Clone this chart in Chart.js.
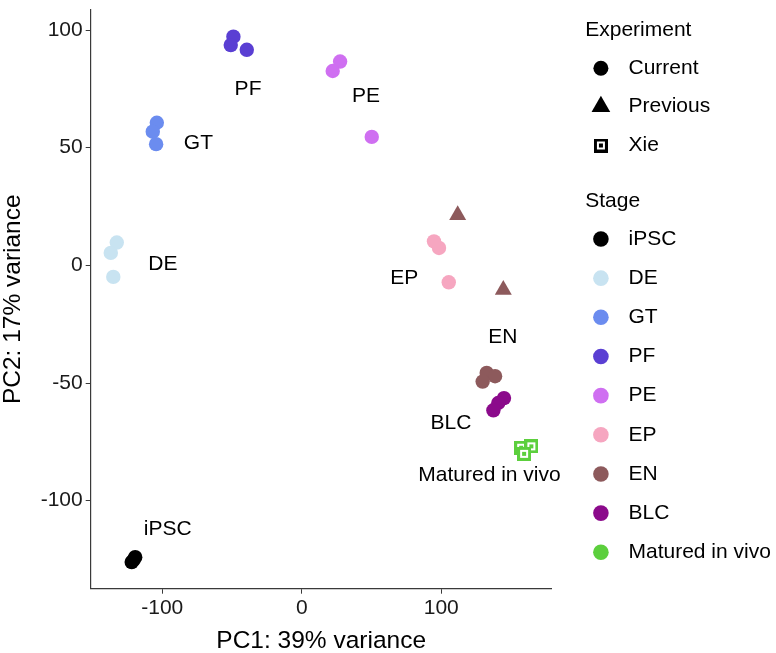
<!DOCTYPE html>
<html>
<head>
<meta charset="utf-8">
<script src="https://cdn.jsdelivr.net/npm/chart.js@4/dist/chart.umd.min.js"></script>
<style>
  html, body { margin: 0; padding: 0; background: #ffffff; }
  #wrap { width: 776px; height: 653px; }
</style>
</head>
<body>
<div id="wrap"><canvas id="c" width="776" height="653"></canvas></div>
<script>
// ---------------- DATA ----------------
const stages = ['iPSC', 'DE', 'GT', 'PF', 'PE', 'EP', 'EN', 'BLC', 'Matured in vivo'];
const experiments = ['Current', 'Previous', 'Xie'];

const sampleStage = [
  'iPSC', 'iPSC', 'iPSC',
  'DE', 'DE', 'DE',
  'GT', 'GT', 'GT',
  'PF', 'PF', 'PF',
  'PE', 'PE', 'PE',
  'EP', 'EP', 'EP',
  'EN', 'EN', 'EN',
  'EN', 'EN',
  'BLC', 'BLC', 'BLC',
  'Matured in vivo', 'Matured in vivo', 'Matured in vivo'
];
const sampleExperiment = [
  'Current', 'Current', 'Current',
  'Current', 'Current', 'Current',
  'Current', 'Current', 'Current',
  'Current', 'Current', 'Current',
  'Current', 'Current', 'Current',
  'Current', 'Current', 'Current',
  'Current', 'Current', 'Current',
  'Previous', 'Previous',
  'Current', 'Current', 'Current',
  'Xie', 'Xie', 'Xie'
];
const pc1 = [
  -119.4, -121.9, -120.6,
  -132.6, -136.9, -135.1,
  -103.9, -106.8, -104.4,
  -49.0, -50.9, -39.4,
  27.5, 22.2, 50.2,
  94.8, 98.4, 105.4,
  132.6, 138.6, 129.7,
  111.8, 144.5,
  145.0, 140.9, 137.4,
  157.3, 164.6, 159.4
];
const pc2 = [
  -124.0, -126.1, -125.2,
  9.7, 5.3, -4.9,
  60.6, 56.8, 51.5,
  97.2, 93.6, 91.6,
  86.6, 82.6, 54.6,
  10.2, 7.4, -7.2,
  -45.7, -47.1, -49.4,
  21.4, -10.4,
  -56.4, -58.5, -61.6,
  -77.5, -76.9, -80.1
];

// text labels placed in data units (as ggrepel placed them)
const labelText = ['iPSC', 'DE', 'GT', 'PF', 'PE', 'EP', 'EN', 'BLC', 'Matured in vivo'];
const labelPC1 = [-96.1, -99.6, -74.1, -38.5, 46.1, 73.5, 144.1, 107.0, 134.6];
const labelPC2 = [-112.1, 0.3, 51.8, 74.8, 71.7, -5.3, -30.6, -67.1, -89.1];

const xTicks = [-100, 0, 100];
const yTicks = [-100, -50, 0, 50, 100];
const xTitle = 'PC1: 39% variance';
const yTitle = 'PC2: 17% variance';

// ---------------- STYLE ----------------
const stageColors = {
  'iPSC': '#000000',
  'DE': '#c8e3f1',
  'GT': '#6b8cef',
  'PF': '#5a3fd3',
  'PE': '#cf6ff1',
  'EP': '#f6a6c0',
  'EN': '#8d5a5c',
  'BLC': '#8b0a8b',
  'Matured in vivo': '#5ccf3d'
};
const FONT = "'Liberation Sans', Arial, Helvetica, sans-serif";

function xieGlyph(color, size) {
  const c = document.createElement('canvas');
  c.width = size; c.height = size;
  const g = c.getContext('2d');
  g.fillStyle = color;
  g.fillRect(0, 0, size, size);
  const a = Math.round(size * 0.22);
  g.fillStyle = '#ffffff';
  g.fillRect(a, a, size - 2 * a, size - 2 * a);
  const b = Math.round(size * 0.36);
  g.fillStyle = color;
  g.fillRect(b, b, size - 2 * b, size - 2 * b);
  return c;
}

// build datasets: one per stage x experiment combination
const datasets = [];
stages.forEach(st => {
  experiments.forEach(ex => {
    const pts = [];
    for (let i = 0; i < pc1.length; i++) {
      if (sampleStage[i] === st && sampleExperiment[i] === ex) pts.push({ x: pc1[i], y: pc2[i] });
    }
    if (!pts.length) return;
    const col = stageColors[st];
    let style = 'circle', radius = 7.2;
    if (ex === 'Previous') { style = 'triangle'; radius = 9.8; }
    if (ex === 'Xie') { style = xieGlyph(col, 14); radius = 7; }
    datasets.push({
      label: st + ' / ' + ex,
      data: pts,
      pointStyle: style,
      pointRadius: radius,
      pointBackgroundColor: col,
      pointBorderColor: col,
      pointBorderWidth: 0,
      showLine: false
    });
  });
});

// ---------------- PLUGINS ----------------
const textLabels = {
  id: 'textLabels',
  afterDatasetsDraw(chart) {
    const { ctx, scales: { x, y } } = chart;
    ctx.save();
    ctx.font = '21px ' + FONT;
    ctx.fillStyle = '#000000';
    ctx.textAlign = 'center';
    ctx.textBaseline = 'middle';
    for (let i = 0; i < labelText.length; i++) {
      ctx.fillText(labelText[i], x.getPixelForValue(labelPC1[i]), y.getPixelForValue(labelPC2[i]));
    }
    ctx.restore();
  }
};

const customLegend = {
  id: 'customLegend',
  afterDraw(chart) {
    const ctx = chart.ctx;
    const left = chart.chartArea.right + 33.5;
    const markX = left + 15.7;
    const textX = left + 43.3;
    ctx.save();
    ctx.font = '21px ' + FONT;
    ctx.textBaseline = 'middle';
    ctx.textAlign = 'left';
    ctx.fillStyle = '#000000';
    // Experiment
    let yy = 30;
    ctx.fillText('Experiment', left, yy);
    const expY = [68.3, 106.5, 145.5];
    experiments.forEach((ex, i) => {
      const cy = expY[i];
      ctx.fillStyle = '#000000';
      if (ex === 'Current') {
        ctx.beginPath(); ctx.arc(markX, cy, 7.5, 0, Math.PI * 2); ctx.fill();
      } else if (ex === 'Previous') {
        const r = 10.8;
        ctx.beginPath();
        for (let k = 0; k < 3; k++) {
          const a = k * 2 * Math.PI / 3;
          const px = markX + Math.sin(a) * r, py = cy - Math.cos(a) * r;
          if (k === 0) ctx.moveTo(px, py); else ctx.lineTo(px, py);
        }
        ctx.closePath(); ctx.fill();
      } else {
        const g = xieGlyph('#000000', 14);
        ctx.drawImage(g, markX - 7, cy - 7);
      }
      ctx.fillStyle = '#000000';
      ctx.fillText(ex, textX, cy);
    });
    // Stage
    ctx.fillText('Stage', left, 201.7);
    stages.forEach((st, i) => {
      const cy = 239 + i * 39.16;
      ctx.fillStyle = stageColors[st];
      ctx.beginPath(); ctx.arc(markX, cy, 7.8, 0, Math.PI * 2); ctx.fill();
      ctx.fillStyle = '#000000';
      ctx.fillText(st, textX, cy);
    });
    ctx.restore();
  }
};

// ---------------- CHART ----------------
const axisColor = '#3a3a3a';
new Chart(document.getElementById('c'), {
  type: 'scatter',
  data: { datasets },
  plugins: [textLabels, customLegend],
  options: {
    responsive: false,
    animation: false,
    events: [],
    layout: { padding: { left: 0, right: 224.3, top: 0, bottom: 0 } },
    plugins: { legend: { display: false }, tooltip: { enabled: false } },
    scales: {
      x: {
        type: 'linear',
        min: -151.3, max: 179.2,
        afterBuildTicks(s) { s.ticks = xTicks.map(v => ({ value: v })); },
        afterFit(s) { s.height = 64.3; s.paddingLeft = 0; s.paddingRight = 0; },
        grid: { display: true, drawOnChartArea: false, drawTicks: true, tickLength: 5, tickColor: axisColor, tickWidth: 1 },
        border: { display: true, color: axisColor, width: 1.2 },
        ticks: { color: '#1a1a1a', font: { family: FONT, size: 21 }, padding: 2, maxRotation: 0 },
        title: { display: true, text: xTitle, color: '#000000', font: { family: FONT, size: 24.5, lineHeight: 1.0 }, padding: { top: 0, bottom: 0 } }
      },
      y: {
        type: 'linear',
        min: -137.4, max: 108.6,
        afterBuildTicks(s) { s.ticks = yTicks.map(v => ({ value: v })); },
        afterFit(s) { s.width = 90.7; s.paddingTop = 0; s.paddingBottom = 0; },
        grid: { display: true, drawOnChartArea: false, drawTicks: true, tickLength: 5, tickColor: axisColor, tickWidth: 1 },
        border: { display: true, color: axisColor, width: 1.2 },
        ticks: { color: '#1a1a1a', font: { family: FONT, size: 21 }, padding: 3 },
        title: { display: true, text: yTitle, color: '#000000', font: { family: FONT, size: 24.5, lineHeight: 1.1 }, padding: { top: 0, bottom: 0 } }
      }
    }
  }
});
</script>
</body>
</html>
